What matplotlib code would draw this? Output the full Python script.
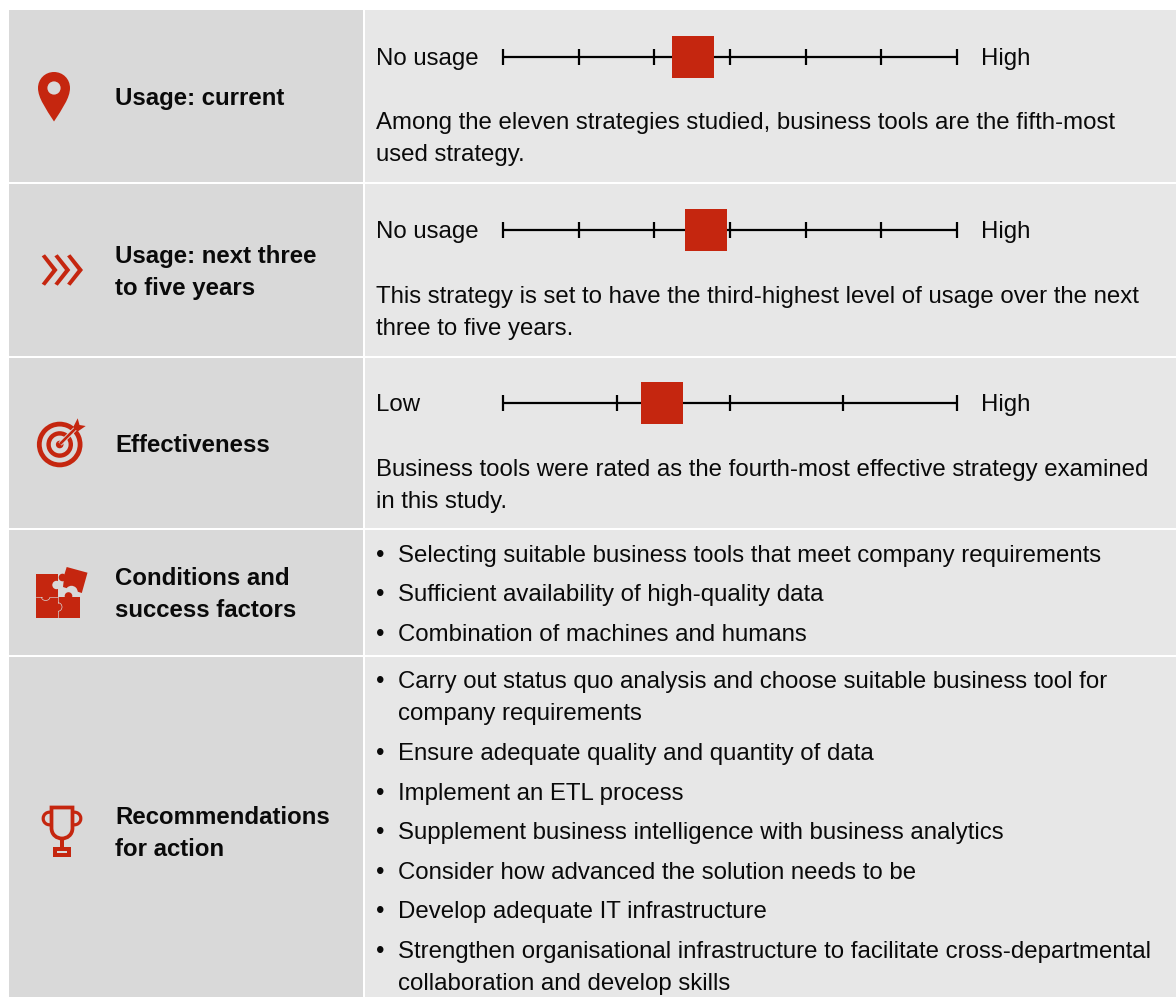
import matplotlib
matplotlib.use('Agg')
import matplotlib.pyplot as plt
from matplotlib.patches import Rectangle, Circle, Polygon, PathPatch, Wedge, Arc
from matplotlib.path import Path

#%% data
row_titles = ["Usage: current", "Usage: next three\nto five years", "Effectiveness",
              "Conditions and\nsuccess factors", "Recommendations\nfor action"]
scale_left = ["No usage", "No usage", "Low"]
scale_right = ["High", "High", "High"]
scale_ticks = [[0, 1, 2, 3, 4, 5, 6], [0, 1, 2, 3, 4, 5, 6], [0, 1, 2, 3, 4]]
scale_values = [2.51, 2.68, 1.40]
scale_text = ["Among the eleven strategies studied, business tools are the fifth-most\nused strategy.",
              "This strategy is set to have the third-highest level of usage over the next\nthree to five years.",
              "Business tools were rated as the fourth-most effective strategy examined\nin this study."]
conditions = ["Selecting suitable business tools that meet company requirements",
              "Sufficient availability of high-quality data",
              "Combination of machines and humans"]
recommendations = ["Carry out status quo analysis and choose suitable business tool for\ncompany requirements",
                   "Ensure adequate quality and quantity of data",
                   "Implement an ETL process",
                   "Supplement business intelligence with business analytics",
                   "Consider how advanced the solution needs to be",
                   "Develop adequate IT infrastructure",
                   "Strengthen organisational infrastructure to facilitate cross-departmental\ncollaboration and develop skills"]

#%% configuration
RED = '#c5260f'
LEFT_BG = '#d9d9d9'
RIGHT_BG = '#e7e7e7'
INK = '#0a0a0a'
FS = 17.32
FS_BOLD = 17.25
LINE = 32
plt.rcParams['font.family'] = ['Liberation Sans', 'DejaVu Sans']
W, H = 1176, 997

row_tops = [10, 184, 357.5, 530, 657]
row_bottoms = [182.5, 356, 528, 655, 997]
# all the y below are text baselines of the first line
title_y = [105, 263, 452, 585, 824]
scale_y = [57, 230, 403]
label_y = [65, 238, 411]
text_y = [129, 303, 476]
cond_y = [562, 601, 641]
rec_y = [688, 760, 800, 839, 879, 918, 958]

fig = plt.figure(figsize=(W / 100, H / 100), dpi=100, facecolor='white')
ax = fig.add_axes([0, 0, 1, 1])
ax.set_xlim(0, W)
ax.set_ylim(H, 0)
ax.axis('off')


def put_lines(x, y, txt, **kw):
    # one text per line, matplotlib linespacing is hard to hit exactly
    for k, part in enumerate(txt.split('\n')):
        ax.text(x, y + k * LINE, part, va='baseline', ha='left', color=INK, **kw)


#%% rows
for top, bot, title, ty in zip(row_tops, row_bottoms, row_titles, title_y):
    ax.add_patch(Rectangle((9, top), 354, bot - top, fc=LEFT_BG, ec='none'))
    ax.add_patch(Rectangle((365, top), W - 365, bot - top, fc=RIGHT_BG, ec='none'))
    put_lines(115, ty, title, fontsize=FS_BOLD, fontweight='bold')

#%% scales
for i in range(3):
    put_lines(376, label_y[i], scale_left[i], fontsize=FS)
    put_lines(981, label_y[i], scale_right[i], fontsize=FS)
    put_lines(376, text_y[i], scale_text[i], fontsize=FS)
    # small axes so the marker sits on the real scale
    sub = fig.add_axes([503 / W, 1 - (scale_y[i] + 25) / H, 454 / W, 50 / H])
    sub.patch.set_alpha(0)
    sub.axis('off')
    sub.set_xlim(scale_ticks[i][0], scale_ticks[i][-1])
    sub.set_ylim(-25, 25)
    sub.plot([scale_ticks[i][0], scale_ticks[i][-1]], [0, 0], color='black', lw=1.6, clip_on=False,
             solid_capstyle='butt')
    sub.plot(scale_ticks[i], [0] * len(scale_ticks[i]), ls='none', marker='|', ms=11, mew=1.6,
             color='black', clip_on=False)
    sub.plot([scale_values[i]], [0], ls='none', marker='s', ms=30.2, mew=0, color=RED, clip_on=False, zorder=5)

#%% bullets
for ys, items in [(cond_y, conditions), (rec_y, recommendations)]:
    for y, item in zip(ys, items):
        ax.text(376, y, "\u2022", fontsize=FS, va='baseline', color=INK)
        put_lines(398, y, item, fontsize=FS)

#%% icons
# pin
pin = Path([(54, 121.5), (46, 109), (38, 98), (38, 88), (38, 79), (45, 72), (54, 72),
            (63, 72), (70, 79), (70, 88), (70, 98), (62, 109), (54, 121.5), (54, 121.5)],
           [Path.MOVETO] + [Path.CURVE4] * 12 + [Path.CLOSEPOLY])
ax.add_patch(PathPatch(pin, fc=RED, ec='none'))
ax.add_patch(Circle((54, 88), 6.6, fc=LEFT_BG, ec='none'))

# chevrons
for dx in [0, 12.7, 25.4]:
    ax.add_patch(Polygon([(41.7 + dx, 256.3), (45 + dx, 254.3), (57.6 + dx, 270), (45 + dx, 285.7),
                          (41.7 + dx, 283.7), (52.3 + dx, 270)], fc=RED, ec='none'))

# target
ax.add_patch(Wedge((59.7, 444.5), 22.8, 0, 360, width=4.8, fc=RED, ec='none'))
ax.add_patch(Wedge((59.7, 444.5), 13.3, 0, 360, width=4.4, fc=RED, ec='none'))
ax.add_patch(Circle((59.7, 444.5), 3.8, fc=RED, ec='none'))
ax.plot([60, 75], [444, 429], color=LEFT_BG, lw=3.2, solid_capstyle='butt')
ax.plot([60, 77], [444, 427], color=RED, lw=1.9, solid_capstyle='butt')
ax.add_patch(Polygon([(73, 427.5), (77.7, 418.3), (79.5, 425), (85.7, 426), (77, 432)], fc=RED, ec='none'))

# puzzle
ax.add_patch(Polygon([(66.7, 567), (87.5, 572.7), (81.8, 593), (63, 587), (64.5, 574)], fc=RED, ec='none'))
ax.add_patch(Circle((62.5, 577.5), 3.8, fc=RED, ec='none'))
ax.add_patch(Circle((71.5, 592), 6.2, fc=LEFT_BG, ec='none'))
ax.add_patch(Rectangle((36, 574.3), 21.5, 22.7, fc=RED, ec='none'))
ax.add_patch(Circle((56.5, 585), 4.2, fc=LEFT_BG, ec='none'))
ax.add_patch(Rectangle((36, 597), 22, 21.2, fc=RED, ec='none'))
ax.add_patch(Rectangle((58, 597), 21.6, 21.2, fc=RED, ec='none'))
ax.add_patch(Circle((68.5, 596), 3.8, fc=RED, ec='none'))
ax.plot([36, 41.5], [597, 597], color=LEFT_BG, lw=0.45)
ax.plot([50, 58], [597, 597], color=LEFT_BG, lw=0.45)
ax.add_patch(Arc((45.7, 597), 8.5, 7, theta1=0, theta2=180, color=LEFT_BG, lw=0.5))
ax.plot([58, 58], [597, 603], color=LEFT_BG, lw=0.45)
ax.plot([58, 58], [611, 618.2], color=LEFT_BG, lw=0.45)
ax.add_patch(Arc((58, 607), 8, 8.5, theta1=-90, theta2=90, color=LEFT_BG, lw=0.5))

# trophy
cup = Path([(51.5, 807.5), (72.5, 807.5), (72.5, 828), (72.5, 835), (67, 838.5), (62, 838.5),
            (57, 838.5), (51.5, 835), (51.5, 828), (51.5, 807.5)],
           [Path.MOVETO, Path.LINETO, Path.LINETO, Path.CURVE4, Path.CURVE4, Path.CURVE4,
            Path.CURVE4, Path.CURVE4, Path.CURVE4, Path.CLOSEPOLY])
ax.add_patch(Wedge((49.5, 818.5), 7.9, 80, 280, width=3.2, fc=RED, ec='none'))
ax.add_patch(Wedge((74.5, 818.5), 7.9, -100, 100, width=3.2, fc=RED, ec='none'))
ax.add_patch(PathPatch(cup, fc='none', ec=RED, lw=2.7, joinstyle='miter'))
ax.add_patch(Rectangle((60.4, 839), 3.2, 8, fc=RED, ec='none'))
ax.add_patch(Rectangle((52.7, 846.7), 18, 10.6, fc=RED, ec='none'))
ax.add_patch(Rectangle((56.7, 850.7), 10, 2.6, fc=LEFT_BG, ec='none'))

fig.savefig('out.png', dpi=100, facecolor='white')
